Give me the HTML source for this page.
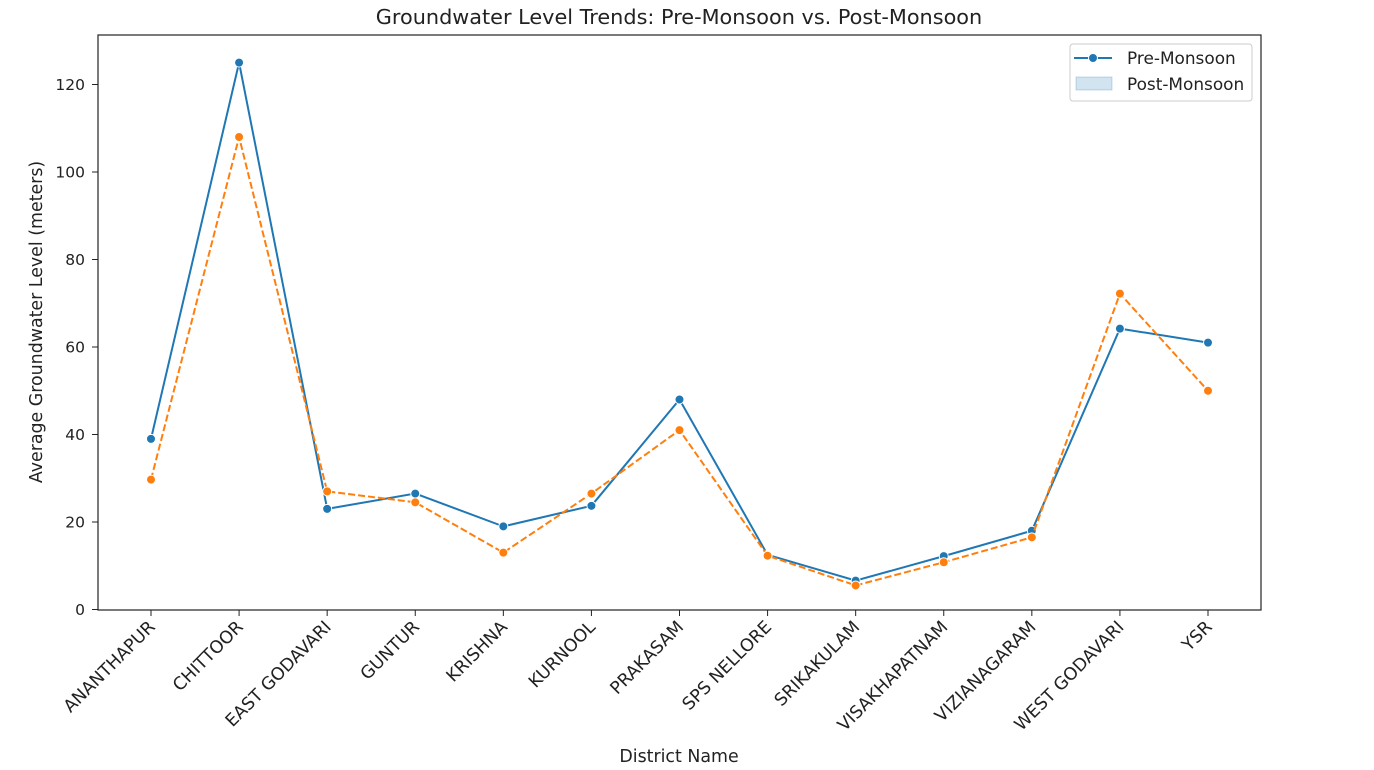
<!DOCTYPE html>
<html><head><meta charset="utf-8"><style>
html,body{margin:0;padding:0;background:#fff;}
svg{display:block;font-family:"DejaVu Sans","Liberation Sans",sans-serif;}
</style></head><body>
<svg id="chart" width="1374" height="770">
<text x="679" y="24" text-anchor="middle" font-size="20.8" fill="#222">Groundwater Level Trends: Pre-Monsoon vs. Post-Monsoon</text>
<rect x="98" y="35" width="1163" height="575" fill="none" stroke="#222" stroke-width="1.2"/>
<g id="yaxis"></g>
<g id="xaxis"></g>
<g id="series"></g>
<text x="679" y="762" text-anchor="middle" font-size="17.4" fill="#222">District Name</text>
<text transform="translate(42,322) rotate(-90)" text-anchor="middle" font-size="17.4" fill="#222">Average Groundwater Level (meters)</text>
<g>
<rect x="1070" y="44" width="182" height="57" rx="3" fill="#fff" stroke="#ccc"/>
<g>
<line x1="1074" y1="58" x2="1112" y2="58" stroke="#1f77b4" stroke-width="2"/>
<circle cx="1093" cy="58" r="4.5" fill="#1f77b4" stroke="#fff" stroke-width="1"/>
<text x="1127" y="64" font-size="16.9" fill="#222">Pre-Monsoon</text>
</g>
<g>
<rect x="1076" y="77" width="36" height="13" fill="#1f77b4" fill-opacity="0.2" stroke="#1f77b4" stroke-opacity="0.25"/>
<text x="1127" y="90" font-size="16.9" fill="#222">Post-Monsoon</text>
</g>
</g>
</svg>
<script>
const categories=["ANANTHAPUR","CHITTOOR","EAST GODAVARI","GUNTUR","KRISHNA","KURNOOL","PRAKASAM","SPS NELLORE","SRIKAKULAM","VISAKHAPATNAM","VIZIANAGARAM","WEST GODAVARI","YSR"];
const preMonsoon=[39,125,23,26.5,19,23.7,48,12.5,6.6,12.2,18,64.2,61];
const postMonsoon=[29.7,108,27,24.5,13,26.5,41,12.3,5.5,10.8,16.5,72.2,50];
const yTicks=[0,20,40,60,80,100,120];
const NS="http://www.w3.org/2000/svg";
const x=i=>151+i*(1208-151)/(categories.length-1);
const y=v=>609.5-v*525/120;
function mk(t,a,p){const e=document.createElementNS(NS,t);for(const k in a)e.setAttribute(k,a[k]);p.appendChild(e);return e;}
const ya=document.getElementById('yaxis'),xa=document.getElementById('xaxis'),se=document.getElementById('series');
yTicks.forEach(v=>{
 const l=mk('line',{x1:92,x2:98,y1:y(v),y2:y(v),stroke:'#222'},ya);
 
 
 const t=mk('text',{x:85,y:y(v)+5.5,'text-anchor':'end','font-size':15.5,fill:'#222'},ya);
 t.textContent=v;
 
 
});
categories.forEach((c,i)=>{
 const l=mk('line',{x1:x(i),x2:x(i),y1:610,y2:616,stroke:'#222'},xa);
 
 
 const t=mk('text',{transform:`translate(${x(i)+5},${628}) rotate(-45)`,'text-anchor':'end','font-size':17.4,fill:'#222'},xa);
 t.textContent=c;
 
 
});
function series(vals,color,dash,name){
 const p=mk('polyline',{points:vals.map((v,i)=>x(i)+','+y(v)).join(' '),fill:'none',stroke:color,'stroke-width':2,'stroke-dasharray':dash},se);
 
 
 vals.forEach((v,i)=>{
  const c=mk('circle',{cx:x(i),cy:y(v),r:4.5,fill:color,stroke:'#fff','stroke-width':1},se);
  
  
 });
}
series(preMonsoon,'#1f77b4','none','pre-monsoon');
series(postMonsoon,'#ff7f0e','7,3','post-monsoon');
</script>
</body></html>
